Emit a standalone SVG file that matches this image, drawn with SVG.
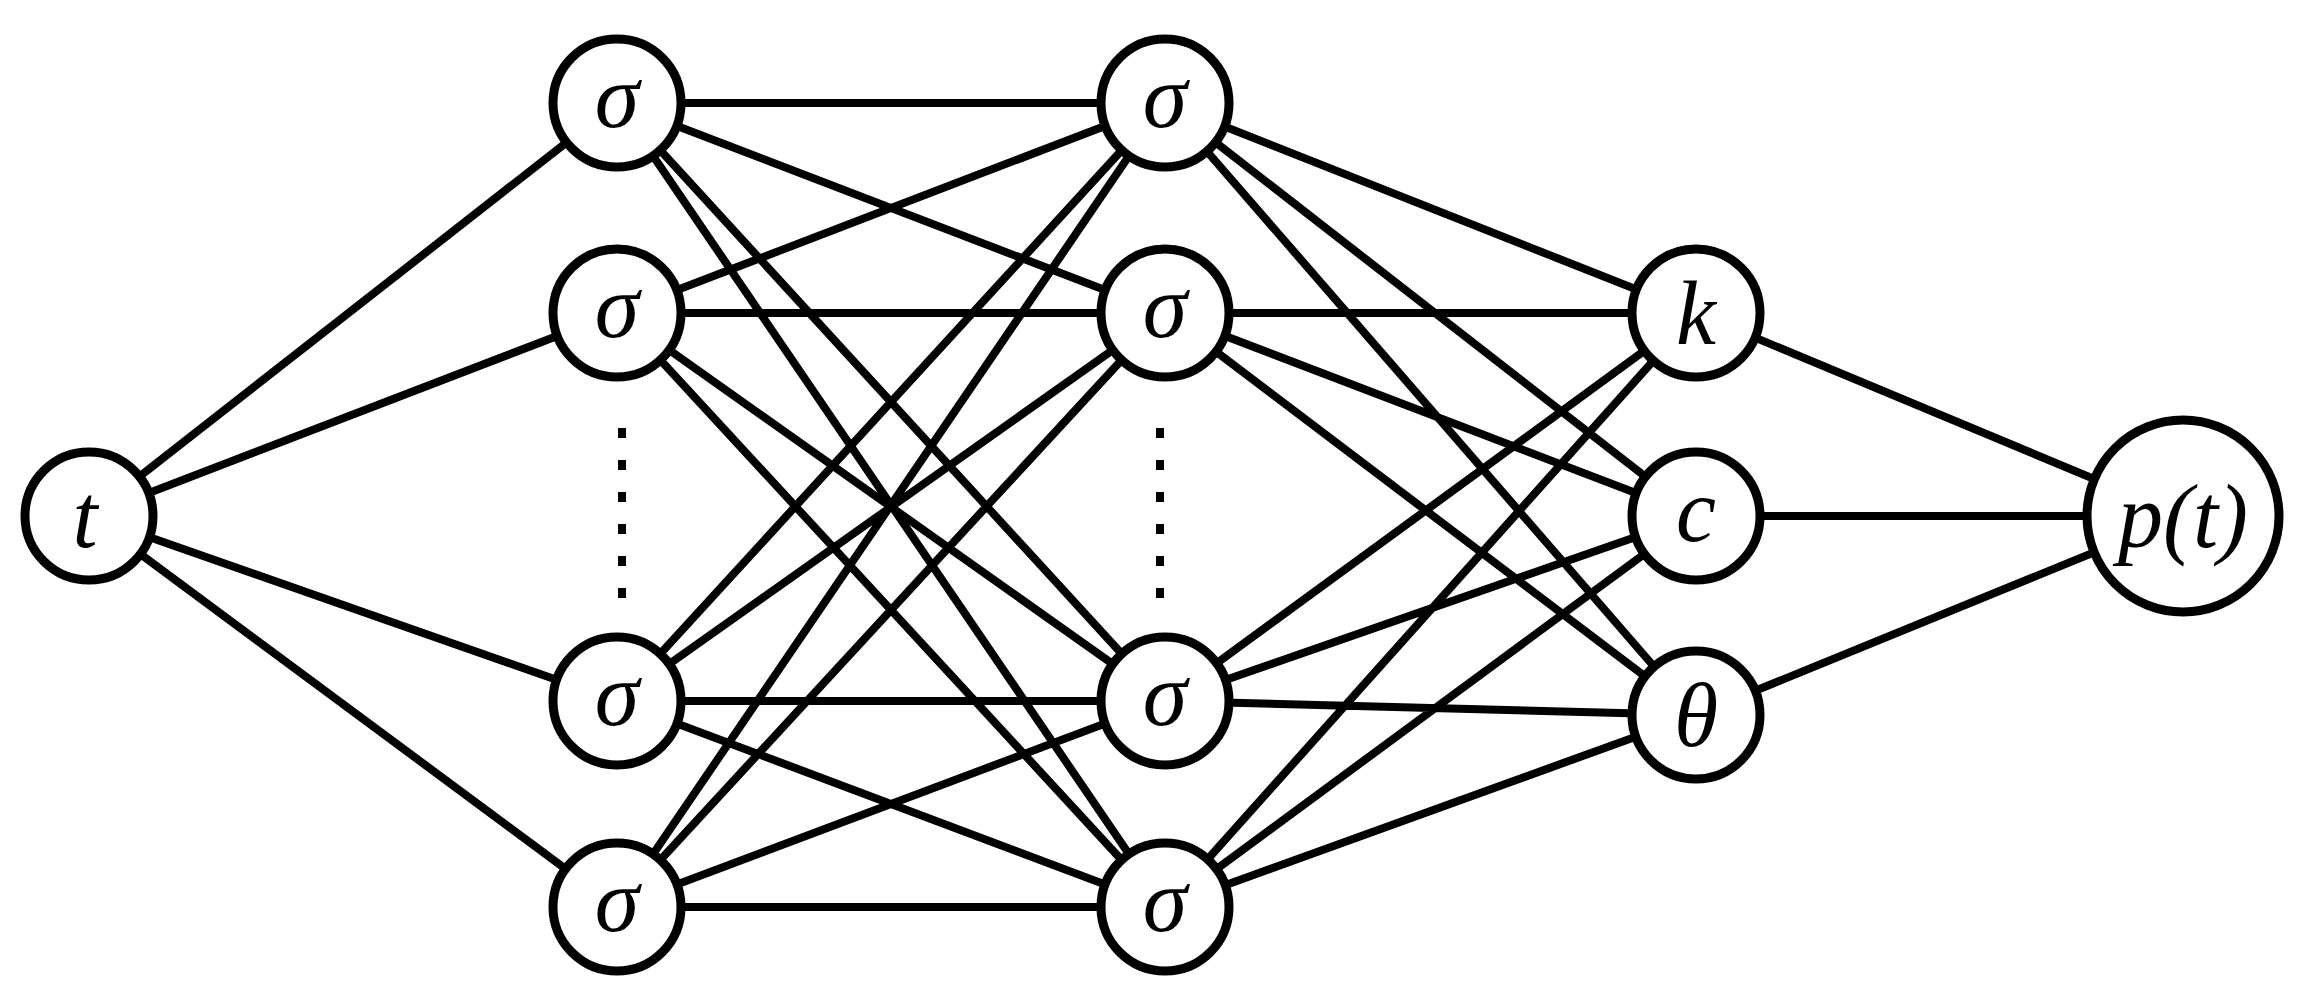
<svg xmlns="http://www.w3.org/2000/svg" width="2313" height="1008" viewBox="0 0 2313 1008">
<style>
.e{stroke:#000;stroke-width:8;fill:none}
.n{fill:#fff;stroke:#000;stroke-width:9}
.t{font-family:"Liberation Serif",serif;font-style:italic;font-size:90px;text-anchor:middle;dominant-baseline:central}
.d{stroke:#000;stroke-width:8;stroke-dasharray:10,22}
</style>
<rect width="2313" height="1008" fill="#fff"/>
<g id="connectors">
<path class="e" d="M89 516L617 103M89 516L617 313M89 516L617 701M89 516L617 907
M617 103L1165 103M617 103L1165 313M617 103L1165 701M617 103L1165 907
M617 313L1165 103M617 313L1165 313M617 313L1165 701M617 313L1165 907
M617 701L1165 103M617 701L1165 313M617 701L1165 701M617 701L1165 907
M617 907L1165 103M617 907L1165 313M617 907L1165 701M617 907L1165 907
M1165 103L1696 313M1165 103L1696 516M1165 103L1696 715
M1165 313L1696 313M1165 313L1696 516M1165 313L1696 715
M1165 701L1696 313M1165 701L1696 516M1165 701L1696 715
M1165 907L1696 313M1165 907L1696 516M1165 907L1696 715
M1696 313L2183 516M1696 516L2183 516M1696 715L2183 516"/>
<path class="d" d="M622 428V600M1160 428V600"/>
</g>
<g id="t"><circle class="n" cx="89" cy="516" r="64"/><text class="t" x="85" y="516">t</text></g>
<g id="h1a"><circle class="n" cx="617" cy="103" r="64"/><text class="t" x="617" y="96">σ</text></g>
<g id="h1b"><circle class="n" cx="617" cy="313" r="64"/><text class="t" x="617" y="306">σ</text></g>
<g id="h1c"><circle class="n" cx="617" cy="701" r="64"/><text class="t" x="617" y="694">σ</text></g>
<g id="h1d"><circle class="n" cx="617" cy="907" r="64"/><text class="t" x="617" y="900">σ</text></g>
<g id="h2a"><circle class="n" cx="1165" cy="103" r="64"/><text class="t" x="1165" y="96">σ</text></g>
<g id="h2b"><circle class="n" cx="1165" cy="313" r="64"/><text class="t" x="1165" y="306">σ</text></g>
<g id="h2c"><circle class="n" cx="1165" cy="701" r="64"/><text class="t" x="1165" y="694">σ</text></g>
<g id="h2d"><circle class="n" cx="1165" cy="907" r="64"/><text class="t" x="1165" y="900">σ</text></g>
<g id="k"><circle class="n" cx="1696" cy="313" r="64"/><text class="t" x="1696" y="313">k</text></g>
<g id="c"><circle class="n" cx="1696" cy="516" r="64"/><text class="t" x="1696" y="510">c</text></g>
<g id="theta"><circle class="n" cx="1696" cy="715" r="64"/><text class="t" x="1696" y="715">θ</text></g>
<g id="p"><circle class="n" cx="2183" cy="516" r="96"/><text class="t" x="2183" y="516">p(t)</text></g>
</svg>
